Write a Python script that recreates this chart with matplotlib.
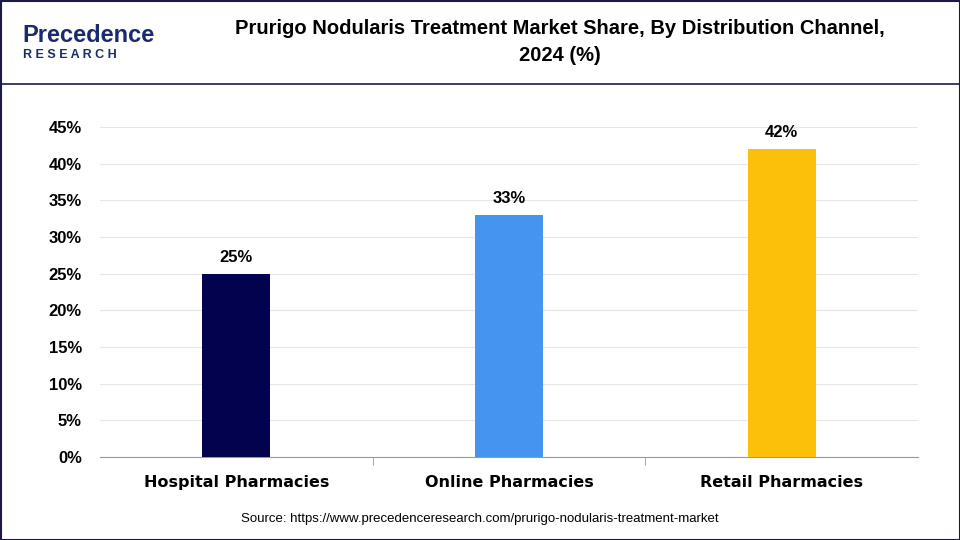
import matplotlib
matplotlib.use("Agg")
import matplotlib.pyplot as plt
from matplotlib.patches import Rectangle
from matplotlib.lines import Line2D

categories = ["Hospital Pharmacies", "Online Pharmacies", "Retail Pharmacies"]
values = [25, 33, 42]
colors = ["#02024f", "#4595ee", "#fcc00a"]
yticks = [0, 5, 10, 15, 20, 25, 30, 35, 40, 45]

plt.rcParams['font.family'] = ['Arial', 'Liberation Sans', 'DejaVu Sans']
fig = plt.figure(figsize=(9.6, 5.4), dpi=100)
W, H = 960, 540
ax = fig.add_axes([100/W, 1-457/H, 818/W, 330/H])
x = list(range(len(categories)))
ax.bar(x, values, width=0.25, color=colors, zorder=3)
for xi, v in zip(x, values):
    ax.text(xi, v + 1.2, f"{v}%", ha="center", va="bottom", fontsize=12, fontweight="bold")
ax.set_xlim(-0.5, 2.5)
ax.set_ylim(0, 45)
ax.set_yticks(yticks)
ax.set_yticklabels([f"{t}%" for t in yticks], fontsize=12, fontweight="bold")
ax.set_xticks(x)
ax.set_xticklabels(categories, fontsize=11.5, fontweight="bold", family="DejaVu Sans")
ax.tick_params(axis="x", length=0, pad=13)
ax.tick_params(axis="y", length=0, pad=13)
ax.set_xticks([0.5, 1.5], minor=True)
ax.tick_params(axis="x", which="minor", length=6, color="#999999")
ax.grid(axis="y", color="#e6e6e6", linewidth=0.8, zorder=0)
for s in ["top", "right", "left"]:
    ax.spines[s].set_visible(False)
ax.spines["bottom"].set_color("#999999")

fig.text(560/W, 1-42/H, "Prurigo Nodularis Treatment Market Share, By Distribution Channel,\n2024 (%)",
         ha="center", va="center", fontsize=14.5, fontweight="bold", linespacing=1.5)
fig.add_artist(Line2D([0, 1], [1-84/H, 1-84/H], color="#1a1a4a", linewidth=1.2))
fig.add_artist(Rectangle((0.5/W, 0.5/H), 1-1/W, 1-1/H, fill=False, edgecolor="#1a1a4a", linewidth=1.5))
fig.text(22/W, 1-36/H, "Precedence", fontsize=17, fontweight="bold", color="#1a2a6c", va="center")
fig.text(23/W, 1-55/H, "R E S E A R C H", fontsize=9, fontweight="bold", color="#1a2a6c", va="center")
fig.text(480/W, 1-519/H, "Source: https://www.precedenceresearch.com/prurigo-nodularis-treatment-market",
         ha="center", va="center", fontsize=9.5)
fig.savefig("out.png", dpi=100)
